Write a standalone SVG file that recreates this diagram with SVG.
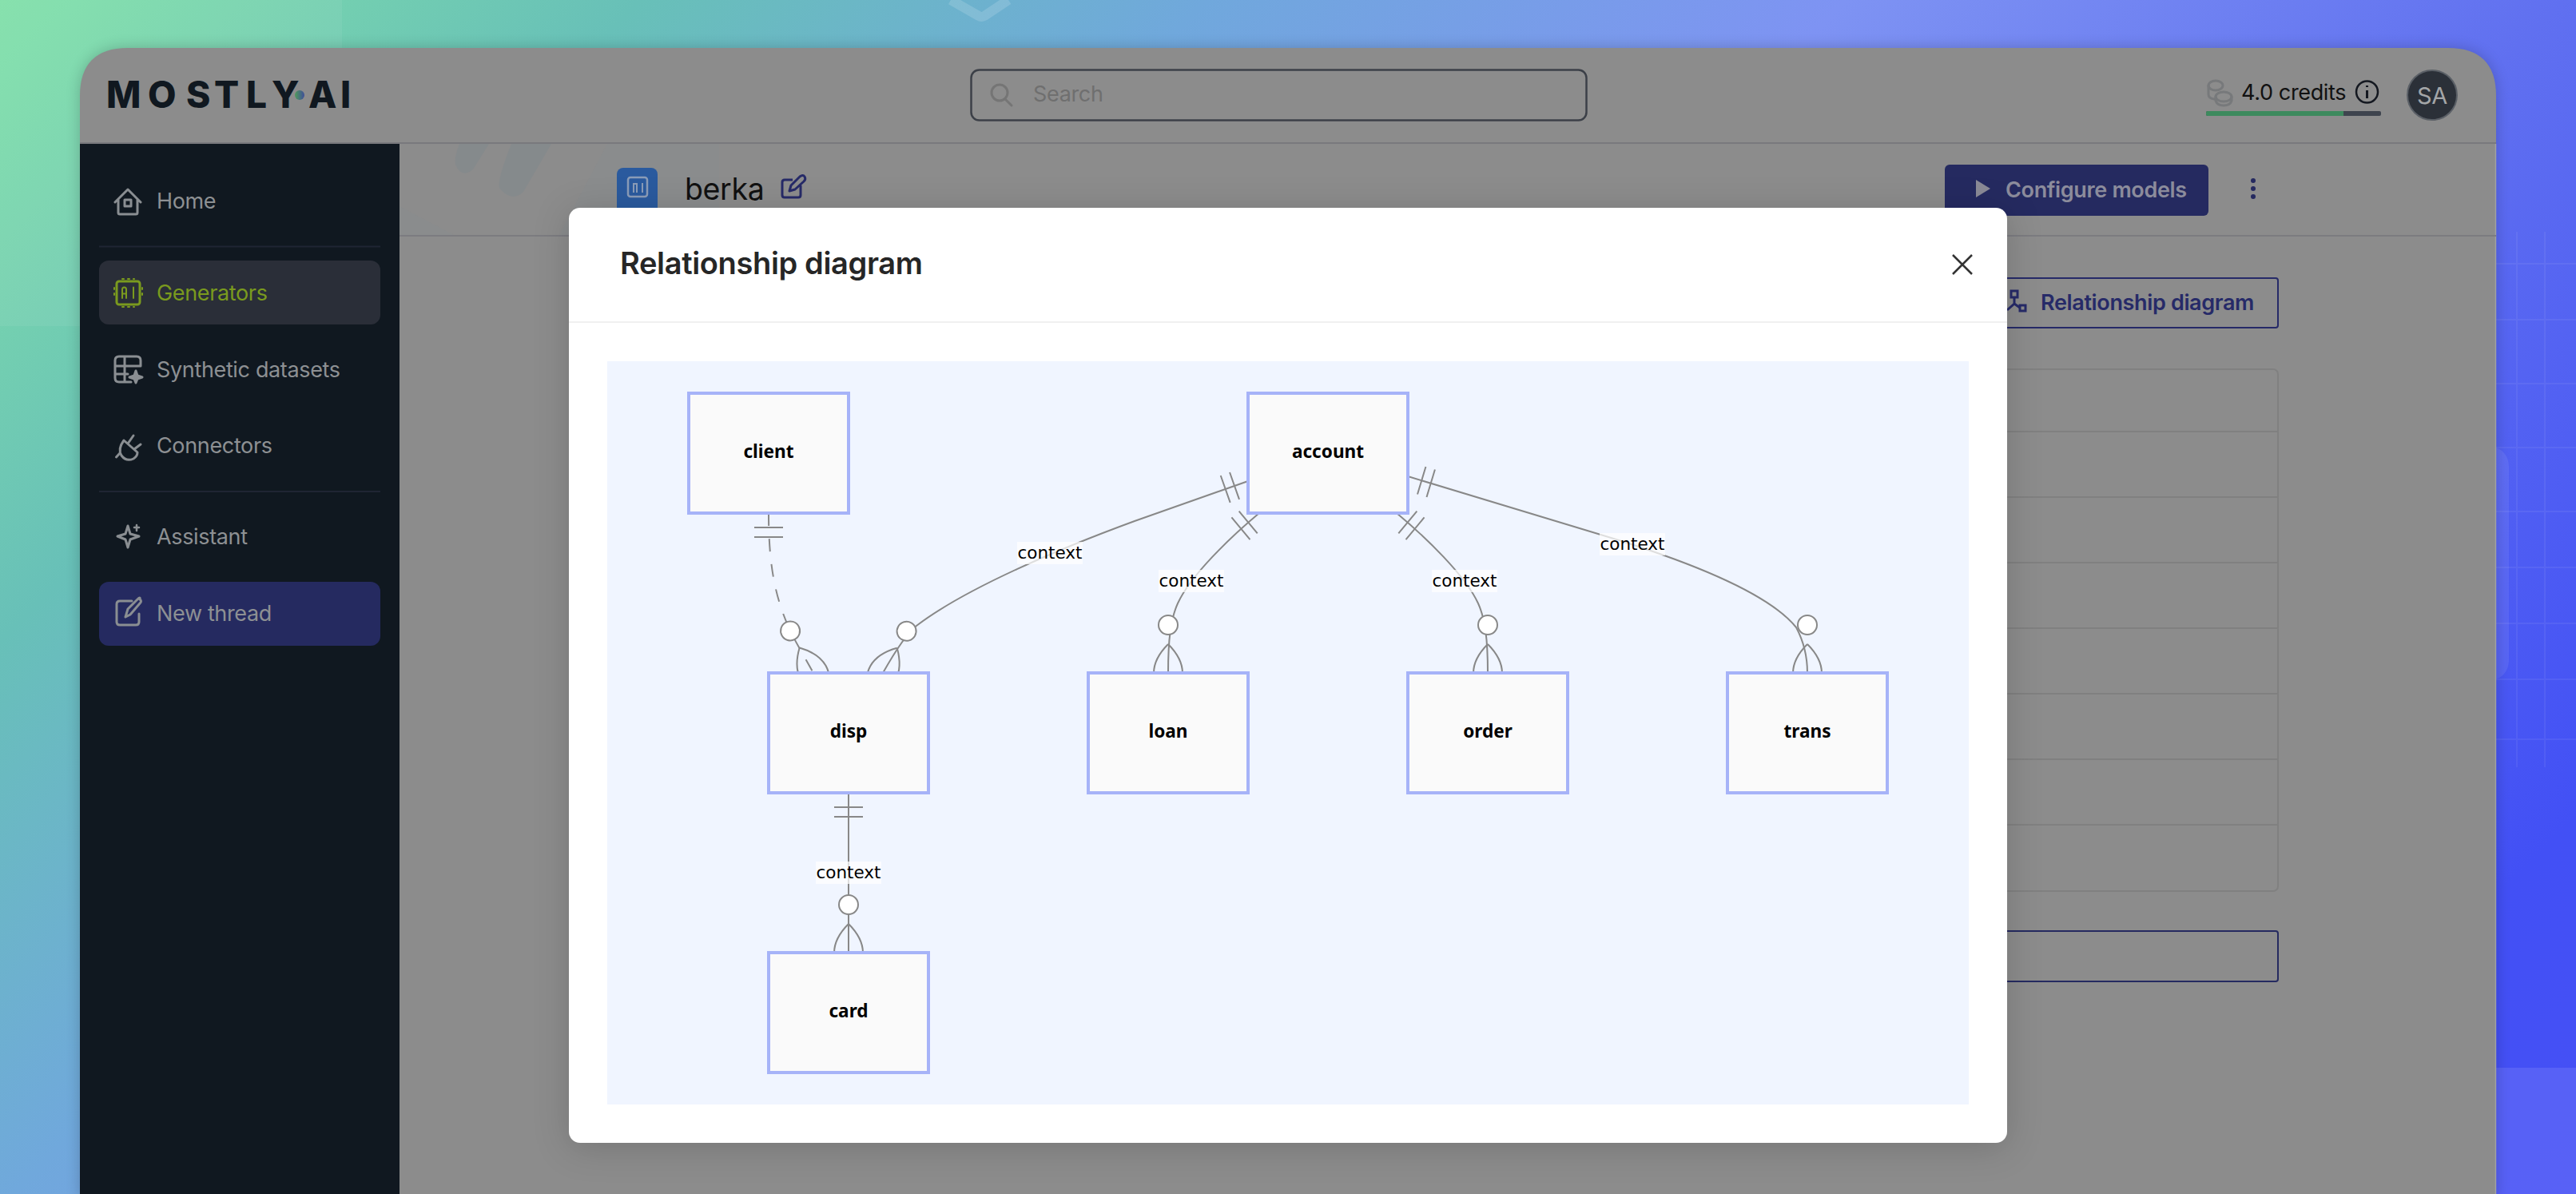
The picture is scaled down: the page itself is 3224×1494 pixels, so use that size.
<svg xmlns="http://www.w3.org/2000/svg" width="3224" height="1494" viewBox="0 0 3224 1494">
<defs>
<linearGradient id="bg" gradientUnits="userSpaceOnUse" x1="0" y1="0" x2="2359" y2="2359">
<stop offset="0" stop-color="#80e0a8"/><stop offset="0.17" stop-color="#68c0b8"/><stop offset="0.32" stop-color="#70a8dc"/><stop offset="0.49" stop-color="#7e93f3"/><stop offset="0.68" stop-color="#6070f0"/><stop offset="0.9" stop-color="#4250f5"/><stop offset="1" stop-color="#4650f5"/>
</linearGradient>
<linearGradient id="dot" x1="0" y1="0" x2="1" y2="0"><stop offset="0" stop-color="#4f9a5a"/><stop offset="1" stop-color="#3f4f9a"/></linearGradient>
<filter id="sh" x="-5%" y="-8%" width="110%" height="116%" color-interpolation-filters="sRGB"><feDropShadow dx="0" dy="6" stdDeviation="22" flood-color="#000" flood-opacity="0.16"/></filter>
<filter id="blur" x="-10%" y="-10%" width="120%" height="120%" color-interpolation-filters="sRGB"><feGaussianBlur stdDeviation="9"/></filter>
<clipPath id="sub"><rect x="500" y="180" width="400" height="114"/></clipPath>
<marker id="oneStart" markerUnits="userSpaceOnUse" refX="0" refY="0" orient="auto" overflow="visible" markerWidth="80" markerHeight="80" viewBox="-40 -40 80 80">
<path d="M18,-18V18M30,-18V18" fill="none" stroke="#888" stroke-width="2"/>
</marker>
<marker id="manyEnd" markerUnits="userSpaceOnUse" refX="0" refY="0" orient="auto" overflow="visible" markerWidth="160" markerHeight="80" viewBox="-80 -40 160 80">
<circle cx="-60" cy="0" r="12" fill="#fff" stroke="#888" stroke-width="2"/>
<path d="M-36,0Q0,-36 36,0Q0,36 -36,0" fill="none" stroke="#888" stroke-width="2"/>
</marker>
<style>
.ui{font-family:Inter,"Liberation Sans",sans-serif;letter-spacing:-.35px}
.nav{font-size:27px;fill:#8d9093;font-family:Inter,"Liberation Sans",sans-serif;letter-spacing:-.35px}
.ic{fill:none;stroke:#8a8e92;stroke-width:3;stroke-linecap:round;stroke-linejoin:round}
.rel{fill:none;stroke:#888;stroke-width:2;marker-start:url(#oneStart);marker-end:url(#manyEnd)}
.ent rect{fill:#fafafa;stroke:#a6b3f8;stroke-width:4}
.ent text{font-family:"Noto Sans",sans-serif;font-weight:700;font-size:22.6px;fill:#000;text-anchor:middle}
.lbl rect{fill:#fff;fill-opacity:.72}
.lbl text{font-family:"DejaVu Sans",sans-serif;font-size:21.5px;fill:#000;text-anchor:middle}
.row{stroke:#808080;stroke-width:2}
</style>
</defs>
<rect width="3224" height="1494" fill="url(#bg)"/>
<rect x="0" y="0" width="428" height="408" fill="#fff" opacity=".06"/>
<rect x="3124" y="1336" width="100" height="158" fill="#fff" opacity=".1"/>
<path d="M1190,0L1225,20Q1228,22 1232,20L1262,0" fill="none" stroke="#fff" stroke-width="12" stroke-linejoin="round" opacity=".15"/>
<rect x="3100" y="560" width="40" height="290" rx="24" fill="#fff" opacity=".08"/>
<g stroke="#fff" stroke-width="2" opacity=".06"><path d="M3124,330H3224M3124,400H3224M3124,480H3224M3124,560H3224M3124,640H3224M3124,710H3224M3124,780H3224M3124,850H3224M3124,925H3224M3150,290V960M3185,290V960"/></g>

<!-- app window, dimmed -->
<path d="M100,1500V120Q100,60 160,60H3064Q3124,60 3124,120V1500Z" fill="#000" opacity=".2" filter="url(#blur)"/>
<path id="window" d="M100,1494V120Q100,60 160,60H3064Q3124,60 3124,120V1494Z" fill="#8c8c8c"/>
<path d="M101,1494V180M3123.500,1494V180" stroke="#aaa" stroke-width="1.500" opacity=".7"/>
<rect x="100" y="178" width="3024" height="2" fill="#79797d"/>
<rect x="500" y="294" width="2624" height="2" fill="#7c7c80"/>
<g clip-path="url(#sub)">
<path d="M760,180L700,294H900V180Z" fill="#8a8c8d"/><path d="M500,258L570,295H500Z" fill="#8a8c8d"/>
<path d="M575,180L612,180L592,212Q578,224 570,206Q568,198 575,180Z" fill="#858a8c"/><path d="M640,180L690,180L655,240Q640,254 625,235Q622,225 640,180Z" fill="#858a8c"/>
</g>
<rect x="100" y="180" width="400" height="1314" fill="#101820"/>
<text class="ui" y="135" font-size="46" font-weight="800" fill="#101820" style="letter-spacing:0" x="133 185 233 268 308 340">MOSTLY</text>
<circle cx="375" cy="119" r="6" fill="url(#dot)"/>
<text class="ui" y="135" font-size="46" font-weight="800" fill="#101820" style="letter-spacing:0" x="386 426">AI</text>

<!-- sidebar -->
<path d="M124,308.500H476M124,615H476" stroke="#1f2533" stroke-width="2"/>
<rect x="124" y="326" width="352" height="80" rx="12" fill="#2a2e38"/>
<rect x="124" y="728" width="352" height="80" rx="12" fill="#252a60"/>
<g class="ic">
<path d="M144,253L160,237L176,253M148,250V266Q148,268 150,268H170Q172,268 172,266V250"/><rect x="156" y="250" width="8" height="8"/>
<g style="stroke:#7a9a1e"><rect x="146" y="352" width="29" height="29" rx="3"/><path d="M143,360V372M178,360V372M153,349H168M153,384H168" stroke-width="2" stroke-dasharray="2 5"/><path d="M153,373V362Q153,359.500 155.500,359.500Q158,359.500 158,362V373M153,367.500H158M167,359.500V373" stroke-width="2"/></g>
<path d="M176,458V451Q176,446 171,446H149Q144,446 144,451V473Q144,478 149,478H164M144,458H176M144,468H160M156,446V478"/><path d="M170,464L172,470L178,472L172,474L170,479L168,474L162,472L168,470Z" style="fill:#8a8e92"/>
<path d="M155,551L172,566Q172,571 167,574Q158,578 152,570Q147,562 155,551ZM150,567L145.500,572M160,555L167,545M168,562L176,556"/>
<path d="M160,658L163,668L174,671L163,675L160,685L157,675L147,671L157,668Z"/><path d="M171,657V664M168,660H174" stroke-width="2.500"/>
<path d="M165,752H150Q146,752 146,756V778Q146,782 150,782H170Q174,782 174,778V768M157,772L160,762L172,750Q176,746 175,750Q178,752 175,755L163,769Z"/>
</g>
<text class="nav" x="196" y="261">Home</text>
<text class="nav" x="196" y="375.500" style="fill:#7a9a1e">Generators</text>
<text class="nav" x="196" y="472">Synthetic datasets</text>
<text class="nav" x="196" y="567">Connectors</text>
<text class="nav" x="196" y="681">Assistant</text>
<text class="nav" x="196" y="777">New thread</text>

<!-- top bar -->
<rect x="1215.500" y="87.500" width="770" height="63" rx="10" fill="none" stroke="#3c4048" stroke-width="2.500"/>
<g class="ic" style="stroke:#757575"><circle cx="1251" cy="116" r="10"/><path d="M1258,124L1266,132"/></g>
<text class="ui" x="1293" y="127" font-size="27" fill="#6f6f6f">Search</text>
<g class="ic" style="stroke:#77797b"><ellipse cx="2773" cy="107" rx="9" ry="6"/><path d="M2764,107V118Q2764,123 2771,124"/><ellipse cx="2783" cy="121" rx="10" ry="6"/><path d="M2773,121V126Q2775,132 2783,132Q2791,132 2793,126V121"/></g>
<text class="ui" x="2805" y="125" font-size="27" fill="#111">4.0 credits</text>
<circle cx="2962.500" cy="115" r="13.500" fill="none" stroke="#141820" stroke-width="2.500"/><path d="M2962.500,113V123M2962.500,107V109" stroke="#141820" stroke-width="3"/>
<rect x="2761" y="139" width="219" height="6" rx="2" fill="#3e444e"/><path d="M2763,139H2933V145H2763Q2761,145 2761,143V141Q2761,139 2763,139Z" fill="#3d8a5e"/>
<circle cx="3044" cy="119" r="31" fill="#2b3038" stroke="#5a5f66" stroke-width="2"/>
<text class="ui" x="3044" y="130" font-size="29" fill="#a4a6a8" text-anchor="middle">SA</text>

<!-- page header -->
<rect x="772" y="210" width="51" height="60" rx="8" fill="#2a5a9e"/>
<g fill="none" stroke="#8a9cb8" stroke-width="2.500"><rect x="786" y="222" width="24" height="24" rx="3"/><path d="M793,241V230H797V241M804,229V241" stroke-width="2"/></g>
<text class="ui" x="857" y="250" font-size="37.500" fill="#111">berka</text>
<path d="M1002,232V244Q1002,247 999,247H982Q979,247 979,244V228Q979,225 982,225H992M988,239L990,232L1001,221Q1005,218 1007,221Q1009,224 1006,227L995,237Z" fill="none" stroke="#262a68" stroke-width="3" stroke-linejoin="round"/>
<rect x="2434" y="206" width="330" height="64" rx="6" fill="#252a60"/>
<path d="M2473,225L2491,236L2473,247Z" fill="#8a8a96"/>
<text class="ui" x="2510" y="247" font-size="27" font-weight="600" fill="#8c8c9c">Configure models</text>
<g fill="#25295f"><circle cx="2820" cy="226" r="3"/><circle cx="2820" cy="236" r="3"/><circle cx="2820" cy="246" r="3"/></g>

<!-- page content behind modal -->
<rect x="2300" y="348" width="551" height="62" rx="3" fill="none" stroke="#262a68" stroke-width="2"/>
<g fill="none" stroke="#262a68" stroke-width="3"><rect x="2517" y="364" width="8" height="8"/><rect x="2528" y="382" width="7" height="7"/><path d="M2521,372V380L2512,388M2521,380L2528,385"/></g>
<text class="ui" x="2554" y="388" font-size="27" font-weight="600" fill="#262a68">Relationship diagram</text>
<rect x="2300" y="462" width="551" height="653" rx="6" fill="none" stroke="#808080" stroke-width="2"/>
<path class="row" d="M2300,540H2851M2300,622H2851M2300,704H2851M2300,786H2851M2300,868H2851M2300,950H2851M2300,1032H2851"/>
<rect x="2300" y="1165" width="551" height="63" rx="3" fill="none" stroke="#252a60" stroke-width="2"/>

<!-- modal -->
<rect id="modal" x="712" y="260" width="1800" height="1170" rx="14" fill="#fff" filter="url(#sh)"/>
<rect x="712" y="402" width="1800" height="2" fill="#f0f0f0"/>
<text class="ui" x="776" y="343" font-size="38" font-weight="600" fill="#262626">Relationship diagram</text>
<path d="M2444,319L2468,343M2468,319L2444,343" stroke="#333" stroke-width="2.500" fill="none"/>
<rect x="760" y="452" width="1704" height="930" fill="#f0f5ff"/>

<g id="connectors">
<path class="rel" stroke-dasharray="16 16" d="M962,642C962,700 968,745 989.500,790C996,804 1007,822 1018,842"/>
<path class="rel" d="M1562,602L1420,652C1330,685 1210,735 1147,783C1134,793 1117.300,820.300 1105,842"/>
<path class="rel" d="M1576,642C1540,672 1490,720 1474,755C1465,775 1462,800 1462,842"/>
<path class="rel" d="M1748,642C1784,672 1834,720 1850,755C1859,775 1862,800 1862,842"/>
<path class="rel" d="M1762,596L2000,668C2100,698 2210,738 2248,785C2256,800 2262,820 2262,842"/>
<path class="rel" d="M1062,992V1192"/>
</g>
<g id="edge-labels">
<g class="lbl"><rect x="1273" y="678" width="82" height="28"/><text x="1314" y="699">context</text></g>
<g class="lbl"><rect x="1450" y="713" width="82" height="28"/><text x="1491" y="734">context</text></g>
<g class="lbl"><rect x="1792" y="713" width="82" height="28"/><text x="1833" y="734">context</text></g>
<g class="lbl"><rect x="2002" y="667" width="82" height="28"/><text x="2043" y="688">context</text></g>
<g class="lbl"><rect x="1021" y="1078" width="82" height="28"/><text x="1062" y="1099">context</text></g>
</g>
<g id="client" class="ent"><rect x="862" y="492" width="200" height="150"/><text x="962" y="573">client</text></g>
<g id="account" class="ent"><rect x="1562" y="492" width="200" height="150"/><text x="1662" y="573">account</text></g>
<g id="disp" class="ent"><rect x="962" y="842" width="200" height="150"/><text x="1062" y="923">disp</text></g>
<g id="loan" class="ent"><rect x="1362" y="842" width="200" height="150"/><text x="1462" y="923">loan</text></g>
<g id="order" class="ent"><rect x="1762" y="842" width="200" height="150"/><text x="1862" y="923">order</text></g>
<g id="trans" class="ent"><rect x="2162" y="842" width="200" height="150"/><text x="2262" y="923">trans</text></g>
<g id="card" class="ent"><rect x="962" y="1192" width="200" height="150"/><text x="1062" y="1273">card</text></g>
</svg>
